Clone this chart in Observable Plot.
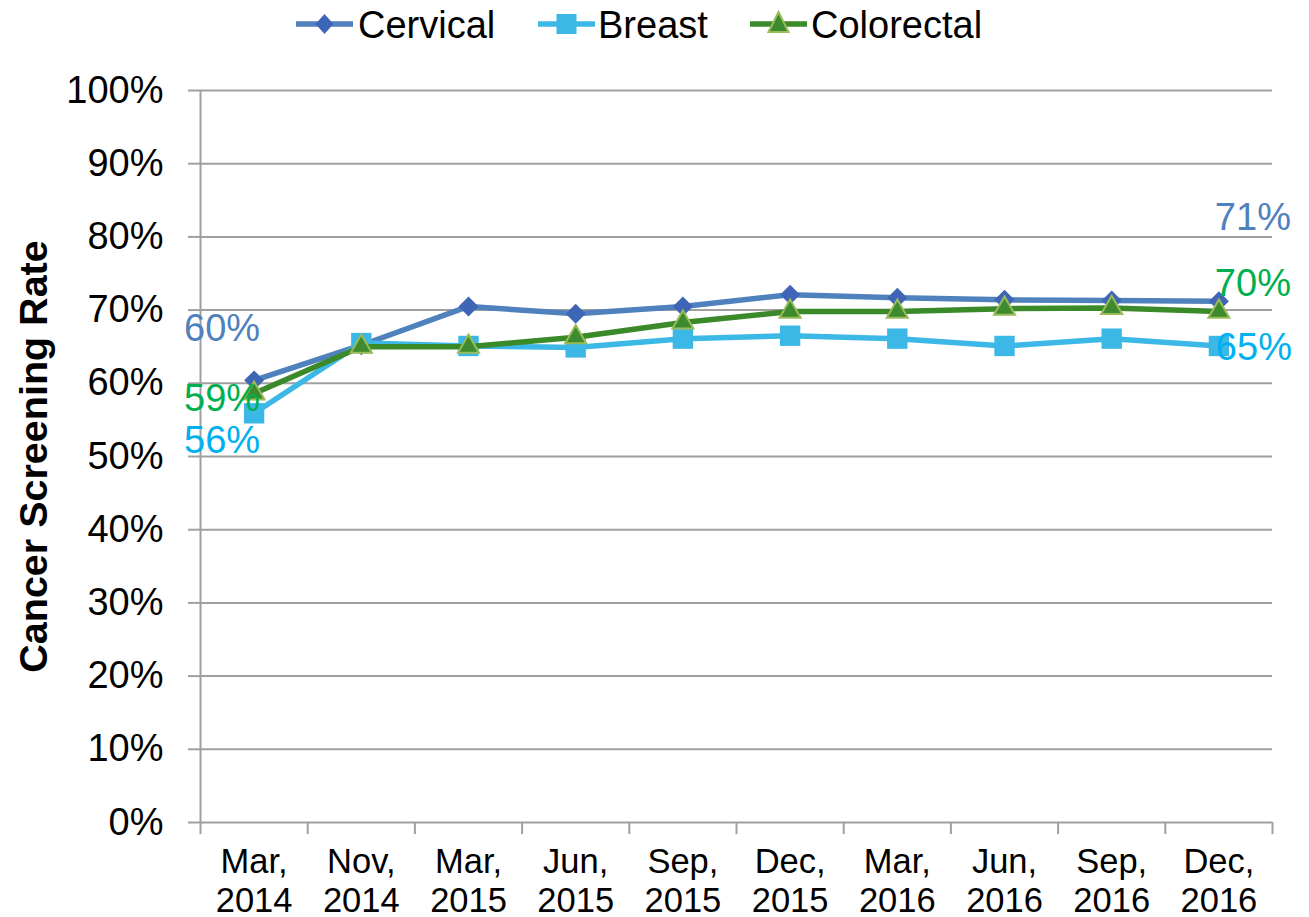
<!DOCTYPE html>
<html>
<head>
<meta charset="utf-8">
<script src="https://cdn.jsdelivr.net/npm/d3@7"></script>
<script src="https://cdn.jsdelivr.net/npm/@observablehq/plot@0.6"></script>
<style>
  body { margin: 0; background: #fff; font-family: "Liberation Sans", Arial, sans-serif; }
  svg { display: block; }
</style>
</head>
<body>
<div id="chart"></div>
<script>
// ---- data ----
const dates = ["Mar,\n2014", "Nov,\n2014", "Mar,\n2015", "Jun,\n2015", "Sep,\n2015",
               "Dec,\n2015", "Mar,\n2016", "Jun,\n2016", "Sep,\n2016", "Dec,\n2016"];
const seriesNames = ["Cervical", "Breast", "Colorectal"];
const cervical   = [60.4, 65.2, 70.5, 69.5, 70.5, 72.1, 71.7, 71.4, 71.3, 71.2];
const breast     = [55.9, 65.5, 65.1, 64.9, 66.1, 66.5, 66.1, 65.1, 66.1, 65.1];
const colorectal = [58.6, 65.0, 65.0, 66.3, 68.3, 69.8, 69.8, 70.2, 70.3, 69.8];
const yTicks = [0, 10, 20, 30, 40, 50, 60, 70, 80, 90, 100];

// ---- styles ----
const styles = {
  Cervical:   {line: "#4f81bd", fill: "#3f66b6", stroke: "none", sw: 0, symbol: "diamond2", r: 9, label: "#4f81bd",
               first: {dx: -32, dy: -52}, last: {dx: 34, dy: -83}},
  Breast:     {line: "#3cb8e6", fill: "#3cb8e6", stroke: "none", sw: 0, symbol: "square", r: 11.5, label: "#00b0f0",
               first: {dx: -32, dy: 28}, last: {dx: 35, dy: 2}},
  Colorectal: {line: "#3a8a2a", fill: "#3d8b2e", stroke: "#9bbb59", sw: 2, symbol: "triangle", r: 7.8, label: "#00b050",
               first: {dx: -32, dy: 5}, last: {dx: 34, dy: -28}}
};
const values = {Cervical: cervical, Breast: breast, Colorectal: colorectal};

const data = seriesNames.flatMap(s => values[s].map((v, i) => ({series: s, i, date: dates[i], value: v})));

// ---- legend ----
const legend = d3.select("#chart").append("svg").attr("width", 1309).attr("height", 50);
const legendItems = [
  {name: "Cervical", x: 296, tx: 358},
  {name: "Breast", x: 538, tx: 598},
  {name: "Colorectal", x: 750, tx: 811}
];
legendItems.forEach(it => {
  const st = styles[it.name];
  const g = legend.append("g");
  g.append("line").attr("x1", it.x).attr("x2", it.x + 57).attr("y1", 24).attr("y2", 24)
    .attr("stroke", st.line).attr("stroke-width", 5.5);
  const cx = it.x + 28.5, cy = 24;
  if (st.symbol === "diamond2") {
    g.append("path").attr("d", `M${cx},${cy-10}L${cx+9},${cy}L${cx},${cy+10}L${cx-9},${cy}Z`).attr("fill", st.fill);
  } else if (st.symbol === "square") {
    g.append("rect").attr("x", cx - 10).attr("y", cy - 10).attr("width", 20).attr("height", 20).attr("fill", st.fill);
  } else {
    g.append("path").attr("d", `M${cx},${cy-12}L${cx+10},${cy+8}L${cx-10},${cy+8}Z`).attr("fill", st.fill)
      .attr("stroke", st.stroke).attr("stroke-width", 2);
  }
  g.append("text").attr("x", it.tx).attr("y", 38)
    .attr("font-size", 38).attr("fill", "#000").attr("font-family", "Liberation Sans, Arial, sans-serif")
    .text(it.name);
});

// ---- chart ----
const marks = [
  Plot.ruleY(yTicks.filter(d => d > 0), {stroke: "#a0a0a0", strokeWidth: 2}),
  Plot.axisY({ticks: yTicks, tickSize: 12, tickPadding: 25, tickFormat: d => d + "%",
              fontSize: 38, stroke: "#a0a0a0", strokeWidth: 2, fill: "#000", label: null}),
  Plot.axisX({ticks: d3.range(-0.5, 10, 1), tickSize: 12, tickFormat: () => "",
              stroke: "#a0a0a0", strokeWidth: 2, label: null}),
  Plot.ruleY([0], {stroke: "#a0a0a0", strokeWidth: 2}),
  Plot.ruleX([-0.5], {stroke: "#a0a0a0", strokeWidth: 2}),
  Plot.text(dates, {x: (d, i) => i, y: () => 0, text: d => d, dy: 22, lineAnchor: "top",
                    lineHeight: 1.15, fontSize: 34.5, fill: "#000"}),
  Plot.text(["Cancer Screening Rate"], {frameAnchor: "left", rotate: -90, dx: -166, textAnchor: "middle",
                    fontWeight: "bold", fontSize: 39.5, fill: "#000"})
];

seriesNames.forEach(s => {
  const st = styles[s];
  const d = data.filter(r => r.series === s);
  marks.push(Plot.line(d, {x: "i", y: "value", stroke: st.line, strokeWidth: 5.5, curve: "linear"}));
  marks.push(Plot.dot(d, {x: "i", y: "value", symbol: st.symbol, r: st.r, fill: st.fill,
                          stroke: st.stroke, strokeWidth: st.sw}));
});
seriesNames.forEach(s => {
  const st = styles[s];
  const d = data.filter(r => r.series === s);
  const first = [d[0]], last = [d[d.length - 1]];
  [[first, st.first], [last, st.last]].forEach(([pts, off]) => {
    marks.push(Plot.text(pts, {x: "i", y: "value", text: r => Math.round(r.value) + "%",
                                dx: off.dx, dy: off.dy, fontSize: 38, fill: st.label, textAnchor: "middle"}));
  });
});

const chart = Plot.plot({
  width: 1309,
  height: 867,
  marginLeft: 200,
  marginRight: 37,
  marginTop: 40,
  marginBottom: 95,
  style: {fontFamily: "Liberation Sans, Arial, sans-serif", background: "#fff", overflow: "visible"},
  x: {type: "linear", domain: [-0.5, 9.5], axis: null},
  y: {domain: [0, 100], axis: null},
  marks
});
document.getElementById("chart").appendChild(chart);
</script>
</body>
</html>
